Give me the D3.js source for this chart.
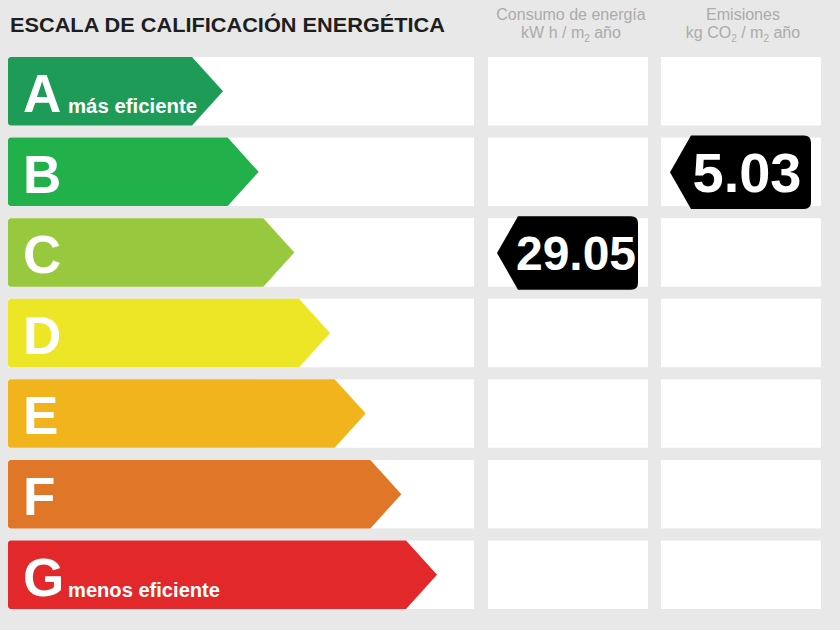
<!DOCTYPE html>
<html>
<head>
<meta charset="utf-8">
<script src="https://cdn.jsdelivr.net/npm/d3@7"></script>
<style>
  html, body { margin: 0; padding: 0; background: #e8e8e8; }
  svg { display: block; font-family: "Liberation Sans", Arial, sans-serif; }
</style>
</head>
<body>
<svg id="chart" width="840" height="630"></svg>
<script>
// ---- data ----
const categories = ["A", "B", "C", "D", "E", "F", "G"];
const colors = ["#1e9c57", "#22b04b", "#97c83d", "#ece626", "#f2b41c", "#e07628", "#e2282b"];
const subLabels = { A: "más eficiente", G: "menos eficiente" };
const title = "ESCALA DE CALIFICACIÓN ENERGÉTICA";
const columnHeads = [
  { line1: "Consumo de energía", unitParts: [["kW h / m", ""], ["2", "sub"], [" año", ""]] },
  { line1: "Emisiones", unitParts: [["kg CO", ""], ["2", "sub"], [" / m", ""], ["2", "sub"], [" año", ""]] }
];
const energyValue = 29.05, energyRating = "C";
const emissionsValue = 5.03, emissionsRating = "B";

// ---- layout ----
const svg = d3.select("#chart");
const W = 840, H = 630;
svg.append("rect").attr("width", W).attr("height", H).attr("fill", "#e8e8e8");

const y = d3.scaleBand().domain(categories).range([57, 609]).paddingInner(0.15);
const tipX = d3.scalePoint().domain(categories).range([223, 437]);
const tipDepth = 31;
const colX = { scale: [8, 474], energy: [488, 648], emissions: [661, 821] };

// title
svg.append("text").attr("x", 10).attr("y", 32)
  .attr("font-size", 21).attr("font-weight", "bold").attr("fill", "#1e1e1e")
  .attr("textLength", 435).attr("lengthAdjust", "spacingAndGlyphs")
  .text(title);

// column headers
const headCols = ["energy", "emissions"];
columnHeads.forEach((h, i) => {
  const [x0, x1] = colX[headCols[i]];
  const cx = (x0 + x1) / 2 + (i === 0 ? 3 : 2);
  svg.append("text").attr("x", cx).attr("y", 20).attr("text-anchor", "middle")
    .attr("font-size", 16).attr("fill", "#ababab").text(h.line1);
  const t = svg.append("text").attr("x", cx).attr("y", 38).attr("text-anchor", "middle")
    .attr("font-size", 16).attr("fill", "#ababab");
  let prevSub = false;
  h.unitParts.forEach(([s, kind]) => {
    const ts = t.append("tspan").text(s);
    if (kind === "sub") { ts.attr("font-size", 10).attr("dy", 4); prevSub = true; }
    else if (prevSub) { ts.attr("dy", -4); prevSub = false; }
  });
});

// white row boxes
const rows = svg.selectAll("g.row").data(categories).join("g").attr("class", "row");
Object.values(colX).forEach(([x0, x1]) => {
  rows.append("rect").attr("x", x0).attr("y", d => y(d))
    .attr("width", x1 - x0).attr("height", y.bandwidth()).attr("fill", "#ffffff");
});

// arrows
const bw = y.bandwidth();
rows.append("path")
  .attr("d", d => {
    const t = y(d), b = t + bw, tx = tipX(d), bx = tx - tipDepth, r = 3;
    return `M${8 + r},${t} L${bx},${t} L${tx},${t + bw / 2} L${bx},${b} L${8 + r},${b} Q8,${b} 8,${b - r} L8,${t + r} Q8,${t} ${8 + r},${t} Z`;
  })
  .attr("fill", (d, i) => colors[i]);

rows.append("text")
  .attr("x", 23).attr("y", d => y(d) + 55)
  .attr("font-size", 53).attr("font-weight", "bold").attr("fill", "#ffffff")
  .text(d => d);

rows.filter(d => subLabels[d]).append("text")
  .attr("x", 68)
  .attr("y", d => y(d) + 56)
  .attr("font-size", 20).attr("font-weight", "bold").attr("fill", "#ffffff")
  .attr("textLength", d => d === "A" ? 129 : 152).attr("lengthAdjust", "spacingAndGlyphs")
  .text(d => subLabels[d]);

// value tags
function tag(col, rating, value, fs, dx) {
  const [x0, x1] = colX[col];
  const l = x0 + 9, r = x1 - 10, t = y(rating) - 2, b = y(rating) + bw + 3, pd = 21, rr = 7;
  const mid = (t + b) / 2;
  svg.append("path")
    .attr("d", `M${l},${mid} L${l + pd},${t} L${r - rr},${t} Q${r},${t} ${r},${t + rr} L${r},${b - rr} Q${r},${b} ${r - rr},${b} L${l + pd},${b} Z`)
    .attr("fill", "#000000");
  svg.append("text")
    .attr("x", (l + pd + r) / 2 + dx).attr("y", mid + fs * 0.36)
    .attr("text-anchor", "middle")
    .attr("font-size", fs).attr("font-weight", "bold").attr("fill", "#ffffff")
    .text(d3.format(".2f")(value));
}
tag("energy", energyRating, energyValue, 48, -2);
tag("emissions", emissionsRating, emissionsValue, 56, -4);
</script>
</body>
</html>
